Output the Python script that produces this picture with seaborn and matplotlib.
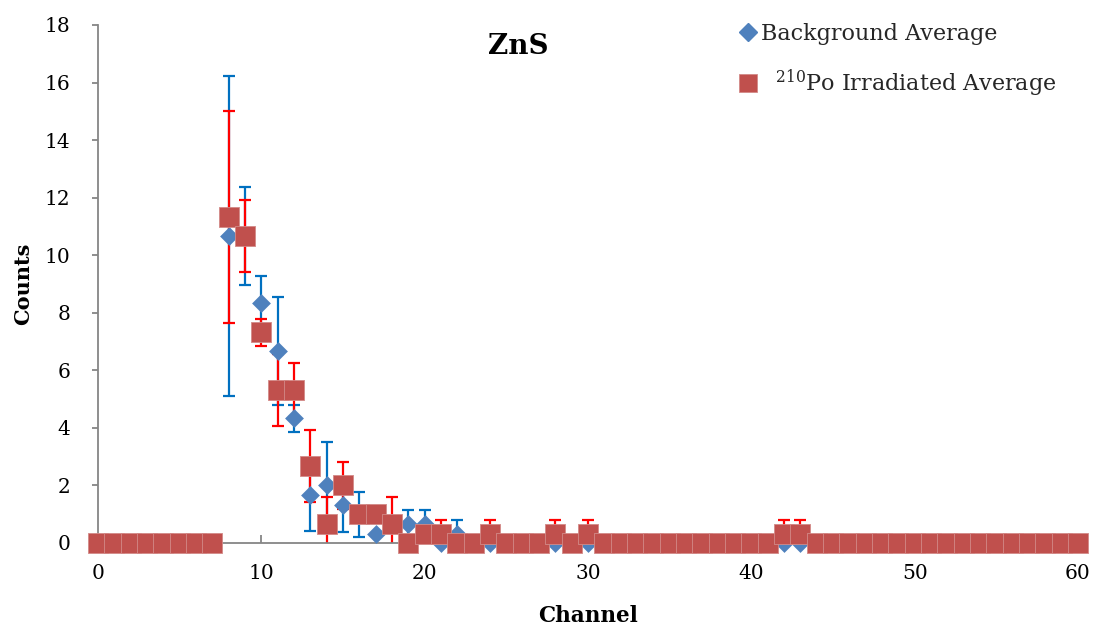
import matplotlib
matplotlib.use("Agg")
import matplotlib.pyplot as plt
import seaborn as sns
import pandas as pd
from matplotlib.lines import Line2D

# ---------------- data ----------------
channels = list(range(61))

bg_avg = [0, 0, 0, 0, 0, 0, 0, 0, 10.67, 10.67,
          8.33, 6.67, 4.33, 1.67, 2.0, 1.33, 1.0, 0.33, 0.67, 0.67,
          0.67, 0, 0.33, 0, 0, 0, 0, 0, 0, 0,
          0, 0, 0, 0, 0, 0, 0, 0, 0, 0,
          0, 0, 0, 0, 0, 0, 0, 0, 0, 0,
          0, 0, 0, 0, 0, 0, 0, 0, 0, 0,
          0]
bg_err = [0, 0, 0, 0, 0, 0, 0, 0, 5.55, 1.70,
          0.94, 1.89, 0.47, 1.25, 1.50, 0.94, 0.78, 0, 0, 0.47,
          0.47, 0, 0.47, 0, 0, 0, 0, 0, 0, 0,
          0, 0, 0, 0, 0, 0, 0, 0, 0, 0,
          0, 0, 0, 0, 0, 0, 0, 0, 0, 0,
          0, 0, 0, 0, 0, 0, 0, 0, 0, 0,
          0]

po_avg = [0, 0, 0, 0, 0, 0, 0, 0, 11.33, 10.67,
          7.33, 5.33, 5.33, 2.67, 0.67, 2.0, 1.0, 1.0, 0.67, 0,
          0.33, 0.33, 0, 0, 0.33, 0, 0, 0, 0.33, 0,
          0.33, 0, 0, 0, 0, 0, 0, 0, 0, 0,
          0, 0, 0.33, 0.33, 0, 0, 0, 0, 0, 0,
          0, 0, 0, 0, 0, 0, 0, 0, 0, 0,
          0]
po_err = [0, 0, 0, 0, 0, 0, 0, 0, 3.68, 1.25,
          0.47, 1.25, 0.94, 1.25, 0.94, 0.82, 0, 0, 0.94, 0,
          0, 0.47, 0, 0, 0.47, 0, 0, 0, 0.47, 0,
          0.47, 0, 0, 0, 0, 0, 0, 0, 0, 0,
          0, 0, 0.47, 0.47, 0, 0, 0, 0, 0, 0,
          0, 0, 0, 0, 0, 0, 0, 0, 0, 0,
          0]

title = "ZnS"
x_label = "Channel"
y_label = "Counts"
bg_label = "Background Average"
po_label = "  $^{210}$Po Irradiated Average"
x_ticks = [0, 10, 20, 30, 40, 50, 60]
y_ticks = [0, 2, 4, 6, 8, 10, 12, 14, 16, 18]

# ---------------- styling ----------------
sns.set_theme(style="white")
plt.rcParams["font.family"] = ["DejaVu Serif"]
plt.rcParams["mathtext.fontset"] = "dejavuserif"

BLUE = "#4F81BD"
RED = "#C0504D"
BLUE_ERR = "#0070C0"
RED_ERR = "#FF0000"
AXIS = "#868686"

bg = pd.DataFrame({"channel": channels, "avg": bg_avg, "err": bg_err})
po = pd.DataFrame({"channel": channels, "avg": po_avg, "err": po_err})

fig = plt.figure(figsize=(10.98, 6.31), dpi=100)
ax = fig.add_axes([98 / 1098, 88 / 631, 980 / 1098, 518 / 631])

# error bars
bge = bg[bg["err"] > 0]
poe = po[po["err"] > 0]
ax.errorbar(bge["channel"], bge["avg"], yerr=bge["err"], fmt="none",
            ecolor=BLUE_ERR, elinewidth=1.6, capsize=4.5, capthick=1.6, zorder=2)
ax.errorbar(poe["channel"], poe["avg"], yerr=poe["err"], fmt="none",
            ecolor=RED_ERR, elinewidth=1.6, capsize=4.5, capthick=1.6, zorder=2.2)

# markers
sns.scatterplot(data=bg, x="channel", y="avg", marker="D", s=92, color=BLUE,
                edgecolor=BLUE, linewidth=0, ax=ax, zorder=3, clip_on=False, legend=False)
sns.scatterplot(data=po, x="channel", y="avg", marker="s", s=195, color=RED,
                edgecolor="#D38A88", linewidth=0.6, ax=ax, zorder=4, clip_on=False, legend=False)

ax.set_xlim(0, 60)
ax.set_ylim(0, 18)
ax.set_xticks(x_ticks)
ax.set_yticks(y_ticks)

for side in ["top", "right"]:
    ax.spines[side].set_visible(False)
for side in ["left", "bottom"]:
    ax.spines[side].set_color(AXIS)
    ax.spines[side].set_linewidth(1.3)

ax.tick_params(axis="y", direction="out", length=4, width=1.3, color=AXIS,
               labelsize=14.5, pad=16, left=True)
ax.tick_params(axis="x", direction="in", length=6, width=1.3, color=AXIS,
               labelsize=14.5, pad=15, bottom=True)
for lbl in ax.get_xticklabels() + ax.get_yticklabels():
    lbl.set_color("black")

ax.set_xlabel(x_label, fontsize=15.5, fontweight="bold", color="black")
ax.set_ylabel(y_label, fontsize=15, fontweight="bold", color="black")
ax.xaxis.set_label_coords(0.5, -0.12)
ax.yaxis.set_label_coords(-0.066, 0.5)

fig.text(518 / 1098, 1 - 46 / 631, title, ha="center", va="center",
         fontsize=20, fontweight="bold", color="black")

handles = [
    Line2D([], [], marker="D", color=BLUE, ls="none", markersize=9.5),
    Line2D([], [], marker="s", color=RED, ls="none", markersize=13,
           markeredgecolor="#D38A88", markeredgewidth=0.6),
]
fig.legend(handles, [bg_label, po_label], loc="upper left",
           bbox_to_anchor=(737 / 1098, 1 - 23 / 631), frameon=False,
           fontsize=16, handlelength=1.0, handletextpad=0.1,
           labelspacing=1.0, borderpad=0, borderaxespad=0)

fig.savefig("out.png", dpi=100)
